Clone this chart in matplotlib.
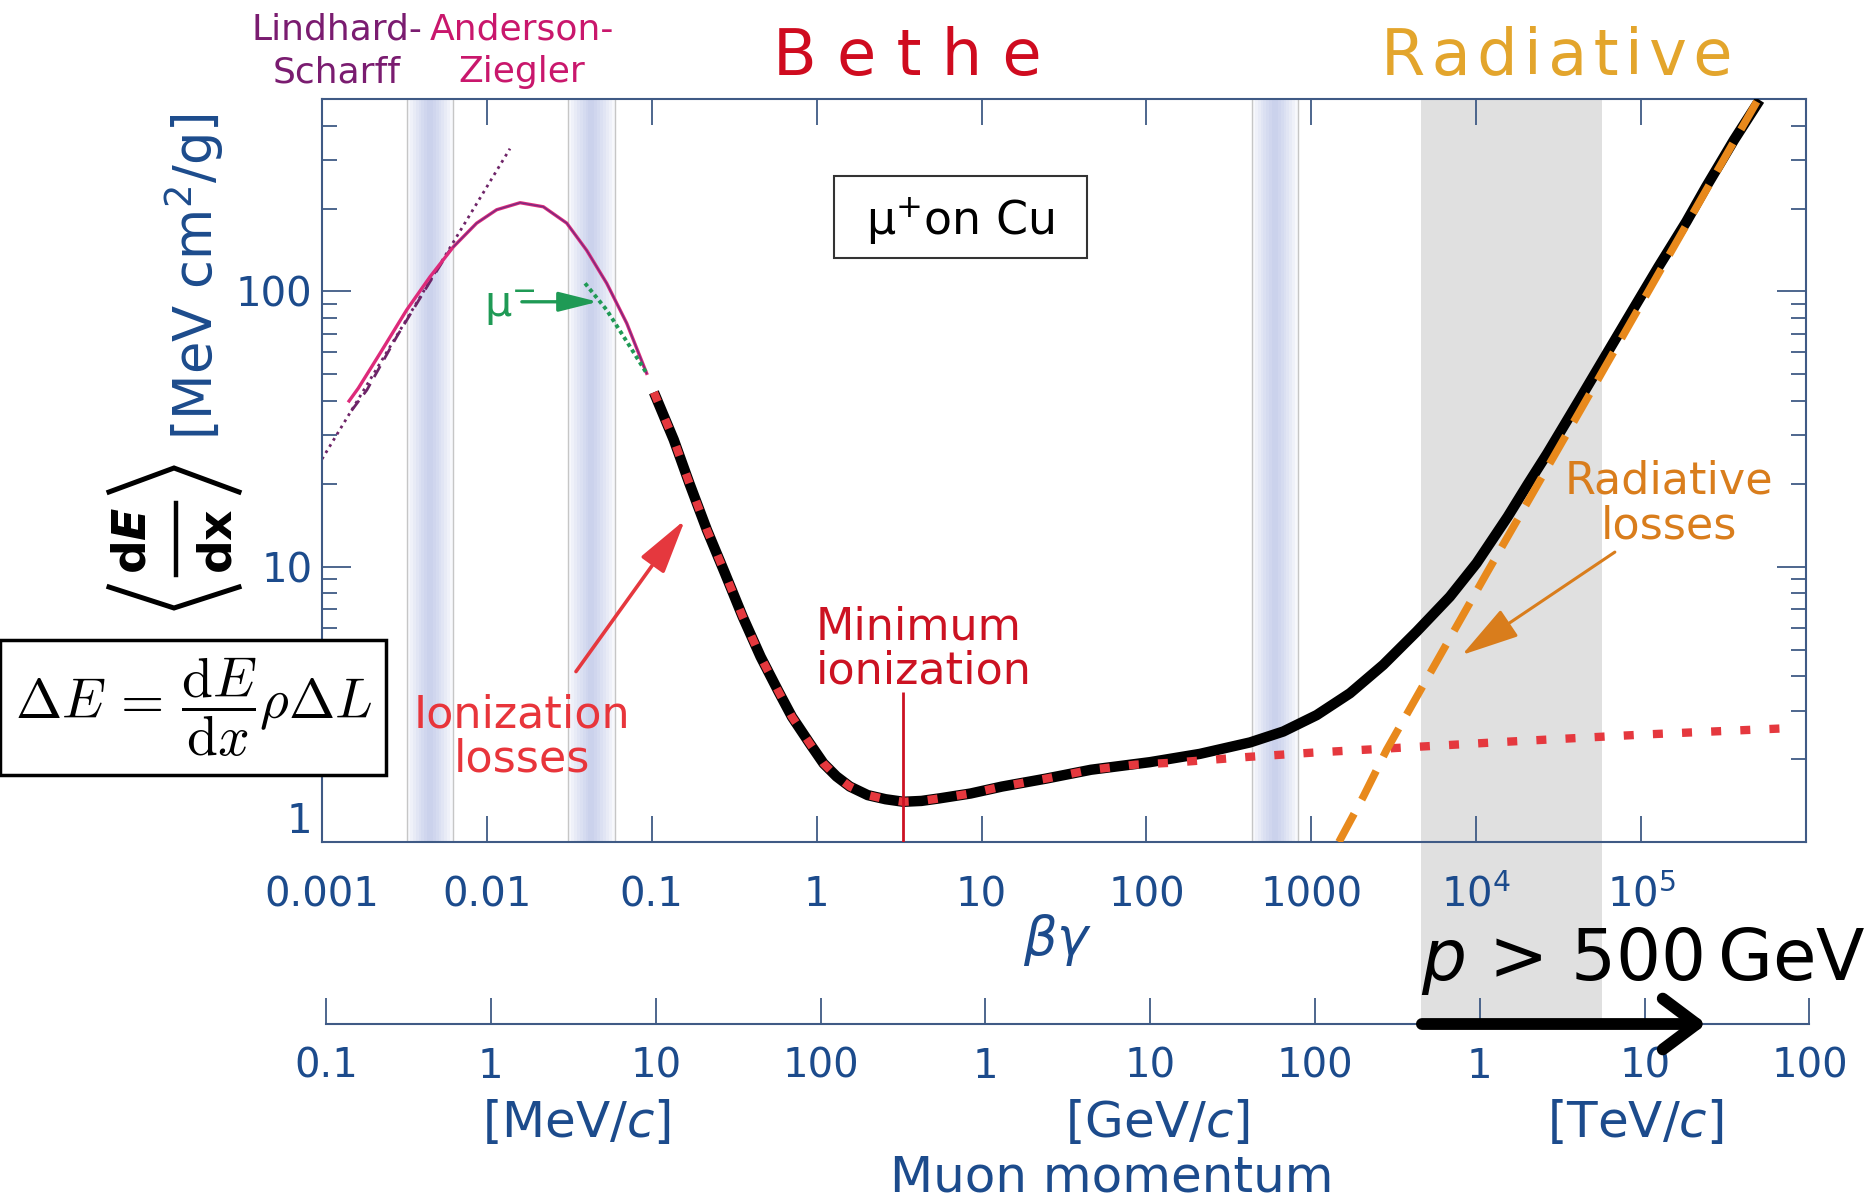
import matplotlib
matplotlib.use("Agg")
import matplotlib.pyplot as plt
from matplotlib.patches import Rectangle, FancyArrowPatch
from matplotlib.lines import Line2D
from matplotlib.ticker import NullLocator, NullFormatter, LogLocator
import numpy as np

W, H = 1872, 1203
plt.rcParams['font.family'] = ['DejaVu Sans']
plt.rcParams['mathtext.fontset'] = 'dejavusans'

BLUE = '#1c4b8c'
SPINE = '#3f5a85'

# ---- mu+ on Cu: mass stopping power <dE/dx> [MeV cm^2/g] vs beta*gamma ----
# total stopping power (Bethe + radiative)
bg_total = [0.103, 0.136, 0.169, 0.216, 0.278, 0.356, 0.457, 0.587, 0.708, 0.908,
            1.10, 1.32, 1.59, 2.04, 2.62, 3.36, 4.32, 5.54, 8.57, 13.3,
            24.7, 46.1, 105, 211, 425, 676, 1077, 1715, 2730, 4350,
            6920, 10050, 15530, 20500, 27000, 42170, 62100, 91400, 127600, 188000,
            248000, 366000, 524000]
dedx_total = [43, 28.9, 20.1, 13.6, 9.46, 6.58, 4.71, 3.52, 2.85, 2.28,
              1.93, 1.73, 1.59, 1.48, 1.43, 1.40, 1.41, 1.44, 1.50, 1.59,
              1.70, 1.83, 1.95, 2.09, 2.30, 2.52, 2.89, 3.47, 4.40, 5.81,
              7.78, 10.3, 15.2, 19.9, 25.8, 40.3, 59.6, 88, 123, 179,
              240, 355, 496]

# ionization only (red dotted)
bg_ion = [0.103, 0.136, 0.169, 0.216, 0.278, 0.356, 0.457, 0.587, 0.708, 0.908,
          1.10, 1.32, 1.59, 2.04, 2.62, 3.36, 4.32, 5.54, 8.57, 13.3,
          24.7, 46.1, 86, 142, 425, 1000, 6770, 14600, 108000, 771000]
dedx_ion = [43, 28.9, 20.1, 13.6, 9.46, 6.58, 4.71, 3.52, 2.85, 2.28,
            1.93, 1.73, 1.59, 1.48, 1.43, 1.40, 1.41, 1.44, 1.50, 1.59,
            1.70, 1.83, 1.91, 1.94, 2.04, 2.11, 2.25, 2.31, 2.46, 2.59]

# radiative losses (orange dashed)
bg_rad = [1470, 2065, 2860, 11560, 43900, 510000]
dedx_rad = [1.0, 1.46, 2.16, 9.46, 38, 496]

# Anderson-Ziegler (low energy)
bg_az = [0.00146, 0.00166, 0.00225, 0.00326, 0.00452, 0.00625, 0.00867, 0.01146,
         0.0159, 0.022, 0.0305, 0.0403, 0.0533, 0.0705, 0.0931]
dedx_az = [40, 44.5, 59.6, 85.6, 113, 145, 177, 198,
           210, 203, 177, 141, 107, 76.6, 50.4]

# Lindhard-Scharff (dashed) and its extension (dotted)
bg_ls = [0.00151, 0.00187, 0.00284, 0.0045, 0.00597]
dedx_ls = [36.9, 43.8, 68.5, 108, 141.6]
bg_ls_ext = [0.001, 0.0138]
dedx_ls_ext = [24.6, 330]

# mu- (Barkas correction)
bg_mum = [0.0394, 0.0533, 0.0738, 0.0931]
dedx_mum = [107, 85.6, 63, 50.4]

# shaded regions in beta*gamma
bands = [(0.00328, 0.00622), (0.0310, 0.0598), (436, 830)]
gray_region = (4620, 57800)

bg_ticks = [1e-3, 1e-2, 1e-1, 1, 10, 100, 1000, 1e4, 1e5]
bg_labels = ['0.001', '0.01', '0.1', '1', '10', '100', '1000', '$10^4$', '$10^5$']
dedx_ticks = [1, 10, 100]
dedx_labels = ['1', '10', '100']

p_ticks = [1e-4, 1e-3, 1e-2, 1e-1, 1, 10, 100, 1e3, 1e4, 1e5]   # GeV/c
p_labels = ['0.1', '1', '10', '100', '1', '10', '100', '1', '10', '100']

min_line_top = 3.5
p_arrow = (445, 23700)   # GeV/c


def fx(x):
    return x / W


def fy(y):
    return 1 - y / H


def fig_line(xs, ys, **kw):
    fig.add_artist(Line2D([fx(x) for x in xs], [fy(y) for y in ys],
                          transform=fig.transFigure, **kw))


fig = plt.figure(figsize=(W / 100, H / 100), dpi=100)
ax = fig.add_axes([fx(322), fy(842), (1806 - 322) / W, (842 - 99) / H])
ax.set_xscale('log')
ax.set_yscale('log')
ax.set_xlim(1e-3, 1e6)
ax.set_ylim(1, 500)

# shaded strips
for lo, hi in bands:
    llo, lhi = np.log10(lo), np.log10(hi)
    c, h = (llo + lhi) / 2, (lhi - llo) / 2
    for k in range(8):
        f = 1 - k / 8
        ax.axvspan(10 ** (c - h * f), 10 ** (c + h * f), color='#8d9bd8',
                   alpha=0.065, lw=0, zorder=0.5)
    for e in (lo, hi):
        ax.axvline(e, color='#c6c6c6', lw=1, zorder=0.6)

ax.axvspan(*gray_region, ymin=-(1024 - 842) / (842 - 99), ymax=1,
           color='#e0e0e0', lw=0, zorder=0.4, clip_on=False)

# curves
ax.plot(bg_ls_ext, dedx_ls_ext, color='#6e2468', lw=2, ls=(0, (1, 1.6)), zorder=2)
ax.plot(bg_ls, dedx_ls, color='#6e2468', lw=2, ls=(0, (4.5, 2.8)), zorder=2)
ax.plot(bg_az, dedx_az, color='#dd2a7a', lw=2.4, zorder=2.2)
ax.plot(bg_az[5:], dedx_az[5:], color='#7a2a80', lw=1.0, zorder=2.3)
ax.plot(bg_mum, dedx_mum, color='#1f9a55', lw=2.8, ls=(0, (1, 0.9)), zorder=2.4)

ax.plot(bg_total, dedx_total, color='black', lw=7.5, zorder=3,
        solid_capstyle='butt', solid_joinstyle='round')
ax.plot(bg_ion, dedx_ion, color='#e5383e', lw=6, ls=(0, (1.2, 2.3)), zorder=3.2)
ax.plot(bg_rad, dedx_rad, color='#e8891c', lw=5.5, ls=(0, (4.2, 2.1)), zorder=3.4)

# minimum ionization marker
bg_min = bg_total[int(np.argmin(dedx_total))]
ax.vlines(bg_min, 1, min_line_top, color='#cc1222', lw=2, zorder=3.5)

# axes styling
for s in ax.spines.values():
    s.set_color(SPINE)
    s.set_linewidth(1.5)
ax.set_xticks(bg_ticks, labels=bg_labels)
ax.xaxis.set_minor_locator(NullLocator())
ax.set_yticks(dedx_ticks, labels=dedx_labels)
ax.yaxis.set_minor_locator(LogLocator(base=10, subs=np.arange(2, 10)))
ax.yaxis.set_minor_formatter(NullFormatter())
ax.tick_params(axis='x', which='major', direction='in', top=True, length=18.7,
               width=1.3, color=SPINE, labelcolor=BLUE, labelsize=29, pad=24)
ax.tick_params(axis='y', which='major', direction='in', right=True, length=21,
               width=1.3, color=SPINE, labelcolor=BLUE, labelsize=29, pad=7)
ax.tick_params(axis='y', which='minor', direction='in', right=True, length=10.6,
               width=1.3, color=SPINE)
for lbl in ax.get_yticklabels():
    if lbl.get_text() == '1':
        lbl.set_verticalalignment('bottom')

# annotation arrows
ax.add_patch(FancyArrowPatch((0.0347, 4.16), (0.159, 14.8),
                             arrowstyle='-|>,head_length=0.85,head_width=0.22',
                             mutation_scale=40, lw=2.6, color='#e5383e',
                             shrinkA=0, shrinkB=0, zorder=4))
ax.add_patch(FancyArrowPatch((69300, 11.3), (8190, 4.78),
                             arrowstyle='-|>,head_length=0.9,head_width=0.25',
                             mutation_scale=40, lw=2.2, color='#d97d1c',
                             shrinkA=0, shrinkB=0, zorder=4))
ax.add_patch(FancyArrowPatch((0.0163, 91.7), (0.0472, 91.7),
                             arrowstyle='-|>,head_length=0.8,head_width=0.2',
                             mutation_scale=30, lw=2.4, color='#1f9a55',
                             shrinkA=0, shrinkB=0, zorder=4))

# momentum axis
ax_p = fig.add_axes([fx(326), fy(1024), 1483.5 / W, 1e-4])
ax_p.set_xscale('log')
ax_p.set_xlim(1e-4, 1e5)
ax_p.patch.set_visible(False)
for side in ('top', 'left', 'right'):
    ax_p.spines[side].set_visible(False)
ax_p.spines['bottom'].set_color(SPINE)
ax_p.spines['bottom'].set_linewidth(1.5)
ax_p.set_yticks([])
ax_p.set_xticks(p_ticks, labels=p_labels)
ax_p.xaxis.set_minor_locator(NullLocator())
ax_p.tick_params(axis='x', direction='in', length=18.7, width=1.3, color=SPINE,
                 labelcolor=BLUE, labelsize=29, pad=16.5)
ax_p.add_patch(FancyArrowPatch((p_arrow[0], 0), (p_arrow[1], 0),
                               transform=ax_p.get_xaxis_transform(),
                               arrowstyle='->,head_length=0.4,head_width=0.3',
                               mutation_scale=61, lw=8.5, color='black',
                               capstyle='round', joinstyle='round',
                               shrinkA=0, shrinkB=0, clip_on=False, zorder=5))

# titles over the plot
fig.text(fx(337), fy(13), 'Lindhard-\nScharff', color='#7a1c70', fontsize=26,
         ha='center', va='top', linespacing=1.3)
fig.text(fx(522), fy(13), 'Anderson-\nZiegler', color='#c9176c', fontsize=26,
         ha='center', va='top', linespacing=1.3)
fig.text(fx(907), fy(75), 'B e t h e', color='#cf0b1f', fontsize=46,
         ha='center', va='baseline')
fig.text(fx(1557), fy(75), '\u200a'.join('Radiative'), color='#e3a52c',
         fontsize=46, ha='center', va='baseline')

# labels inside the plot
fig.add_artist(Rectangle((fx(834), fy(258)), (1087 - 834) / W, (258 - 176) / H,
                         transform=fig.transFigure, facecolor='white',
                         edgecolor='#333333', lw=1.5, zorder=4))
fig.text(fx(960), fy(235), 'μ$^{+}$on Cu', fontsize=33, ha='center',
         va='baseline', zorder=5)
fig.text(fx(484), fy(317), 'μ$^{-}$', color='#1f9a55', fontsize=31,
         ha='left', va='baseline')
fig.text(fx(816), fy(605), 'Minimum\nionization', color='#cc1222', fontsize=32,
         ha='left', va='top', linespacing=1.05)
fig.text(fx(522), fy(693), 'Ionization\nlosses', color='#e8353b', fontsize=32,
         ha='center', va='top', linespacing=1.05)
fig.text(fx(1669), fy(460), 'Radiative\nlosses', color='#d97d1c', fontsize=32,
         ha='center', va='top', linespacing=1.05)

# axis labels
fig.text(fx(1058), fy(940), r'$\beta\gamma$', color=BLUE, fontsize=38,
         ha='center', va='center')
fig.text(fx(194), fy(277), '[MeV cm$^2$/g]', color=BLUE, fontsize=38,
         rotation=90, ha='center', va='center')

# <dE/dx>, written sideways with a tall bracket pair
fig.text(fx(145), fy(540), r'$\mathbf{d}\mathbfit{E}$', fontsize=34,
         rotation=90, rotation_mode='anchor', ha='center', va='baseline')
fig.text(fx(232), fy(541), r'$\mathbf{dx}$', fontsize=34,
         rotation=90, rotation_mode='anchor', ha='center', va='baseline')
fig_line([176, 176], [503, 575], color='black', lw=3.2)
fig_line([109, 174, 239], [492, 468, 492], color='black', lw=3.6,
         solid_joinstyle='miter')
fig_line([109, 174, 239], [587, 608, 587], color='black', lw=3.6,
         solid_joinstyle='miter')

for x, unit in [(577, 'MeV'), (1157, 'GeV'), (1635, 'TeV')]:
    fig.text(fx(x), fy(1123), '[%s/$c$]' % unit, color=BLUE, fontsize=36,
             ha='center', va='center')
fig.text(fx(1112), fy(1192), 'Muon momentum', color=BLUE, fontsize=36,
         ha='center', va='baseline')

fig.text(fx(1421), fy(980), r'$p$ > 500$\,$GeV', color='black', fontsize=51,
         ha='left', va='baseline', zorder=6)

# energy loss formula box
fig.add_artist(Rectangle((0, fy(775)), 386 / W, (775 - 640) / H,
                         transform=fig.transFigure, facecolor='white',
                         edgecolor='black', lw=2.5, zorder=4))
fig.text(fx(194), fy(707),
         r'$\Delta E\,=\,\dfrac{\mathrm{d}E}{\mathrm{d}x}\rho\Delta L$',
         math_fontfamily='cm', fontsize=40, ha='center', va='center', zorder=5)

fig.savefig('out.png', dpi=100)
